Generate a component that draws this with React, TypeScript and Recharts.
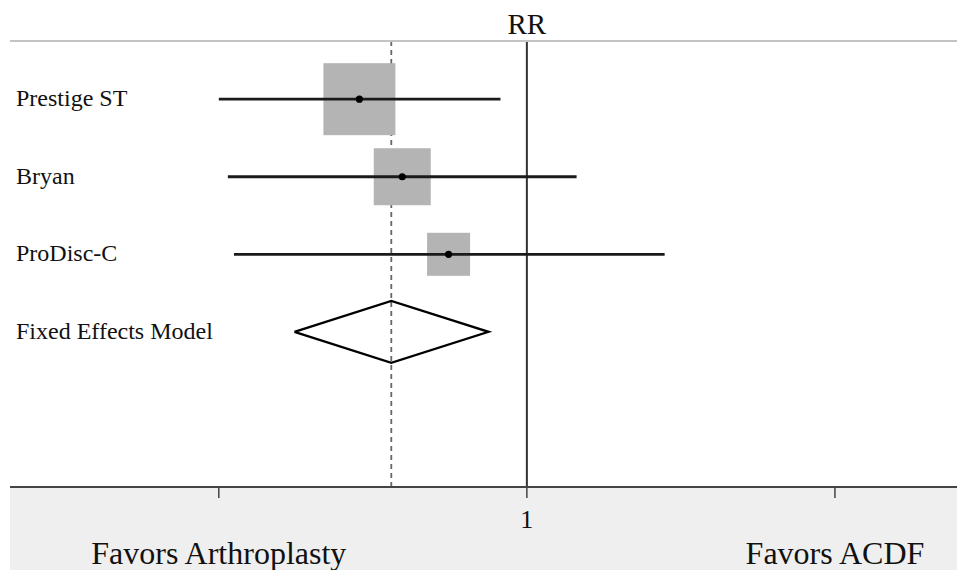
import { ComposedChart, Scatter, XAxis, YAxis, ReferenceLine } from 'recharts';

// study rows (risk ratio, 95% CI, weight %)
const studies = ['Prestige ST', 'Bryan', 'ProDisc-C'];
const rr = [0.286, 0.394, 0.557];
const ciLow = [0.1, 0.107, 0.112];
const ciHigh = [0.821, 1.45, 2.8];
const weights = [50.4, 31.6, 18.0];

// pooled estimate
const pooledLabel = 'Fixed Effects Model';
const pooledRR = 0.363;
const pooledLow = 0.176;
const pooledHigh = 0.751;

const rows = [1, 2, 3, 4];
const rowLabels = [...studies, pooledLabel];

const xTicks = [0.1, 1, 10];
const xTickLabels = ['Favors Arthroplasty', '1', 'Favors ACDF'];
const title = 'RR';

const FONT = '"Liberation Serif", "Times New Roman", serif';
const BOX_SCALE = 10.14;
const DIAMOND_H = 0.4;

const boxData = studies.map((name, i) => ({ name, x: rr[i], y: rows[i], w: weights[i] }));
const pooledRow = rows[studies.length];
const diamondData = [
    { x: pooledLow, y: pooledRow },
    { x: pooledRR, y: pooledRow - DIAMOND_H },
    { x: pooledHigh, y: pooledRow },
    { x: pooledRR, y: pooledRow + DIAMOND_H },
    { x: pooledLow, y: pooledRow },
];

const RowTick = ({ y, payload }: any) => {
    const label = rowLabels[rows.indexOf(payload.value)];
    return (
        <text x={16} y={y + 7} textAnchor="start" style={{ fontFamily: FONT, fontSize: 24, fill: '#111' }}>
            {label}
        </text>
    );
};

const TitleTick = ({ x, y }: any) => (
    <text x={x} y={y} textAnchor="middle" style={{ fontFamily: FONT, fontSize: 29, fill: '#111' }}>
        {title}
    </text>
);

const BottomTick = ({ x, y, payload }: any) => {
    const label = xTickLabels[xTicks.indexOf(payload.value)];
    const isOne = payload.value === 1;
    return (
        <text
            x={x}
            y={isOne ? y + 30 : y + 66}
            textAnchor="middle"
            style={{ fontFamily: FONT, fontSize: isOne ? 26 : 32, fill: '#111' }}
        >
            {label}
        </text>
    );
};

const Box = (p: any) => {
    const s = BOX_SCALE * Math.sqrt(p.payload.w);
    return <rect x={p.cx - s / 2} y={p.cy - s / 2} width={s} height={s} fill="#b4b4b4" />;
};

const Dot = (p: any) => <circle cx={p.cx} cy={p.cy} r={3.6} fill="#000" />;
const Nothing = () => <g />;

export default function App() {
    return (
        <div style={{ position: 'relative', width: 957, height: 570, background: '#fff' }}>
            <style>{'body{margin:0}'}</style>
            <div style={{ position: 'absolute', left: 10, top: 487, width: 947, height: 83, background: '#efefef' }} />
            <div style={{ position: 'absolute', left: 0, top: 0 }}>
                <ComposedChart width={957} height={570} margin={{ top: 0, right: 0, bottom: 0, left: 0 }}>
                    <XAxis
                        xAxisId="t"
                        orientation="top"
                        dataKey="x"
                        type="number"
                        scale="log"
                        domain={[0.021, 24.9]}
                        allowDataOverflow
                        ticks={[1]}
                        interval={0}
                        height={41}
                        tickLine={false}
                        tickSize={0}
                        tickMargin={7}
                        tick={<TitleTick />}
                        axisLine={{ stroke: '#c4c4c4', strokeWidth: 2 }}
                    />
                    <XAxis
                        xAxisId="b"
                        dataKey="x"
                        type="number"
                        scale="log"
                        domain={[0.021, 24.9]}
                        allowDataOverflow
                        ticks={xTicks}
                        interval={0}
                        height={83}
                        tickSize={11}
                        tickMargin={0}
                        tick={<BottomTick />}
                        tickLine={{ stroke: '#444', strokeWidth: 1.5 }}
                        axisLine={{ stroke: '#444', strokeWidth: 2 }}
                    />
                    <YAxis
                        dataKey="y"
                        type="number"
                        domain={[0.25, 6]}
                        reversed
                        allowDataOverflow
                        ticks={rows}
                        interval={0}
                        width={10}
                        tickSize={0}
                        tickMargin={0}
                        axisLine={false}
                        tickLine={false}
                        tick={<RowTick />}
                    />
                    <ReferenceLine xAxisId="b" x={pooledRR} stroke="#666" strokeWidth={1.8} strokeDasharray="5 4" />
                    <ReferenceLine xAxisId="b" x={1} stroke="#333" strokeWidth={2} />
                    <Scatter xAxisId="b" data={boxData} shape={Box} isAnimationActive={false} />
                    {studies.map((name, i) => (
                        <Scatter
                            key={name}
                            xAxisId="b"
                            data={[
                                { x: ciLow[i], y: rows[i] },
                                { x: ciHigh[i], y: rows[i] },
                            ]}
                            line={{ stroke: '#1a1a1a', strokeWidth: 2.8 }}
                            shape={Nothing}
                            isAnimationActive={false}
                        />
                    ))}
                    <Scatter xAxisId="b" data={boxData} shape={Dot} isAnimationActive={false} />
                    <Scatter
                        xAxisId="b"
                        data={diamondData}
                        line={{ stroke: '#000', strokeWidth: 2.3 }}
                        shape={Nothing}
                        isAnimationActive={false}
                    />
                </ComposedChart>
            </div>
        </div>
    );
}
